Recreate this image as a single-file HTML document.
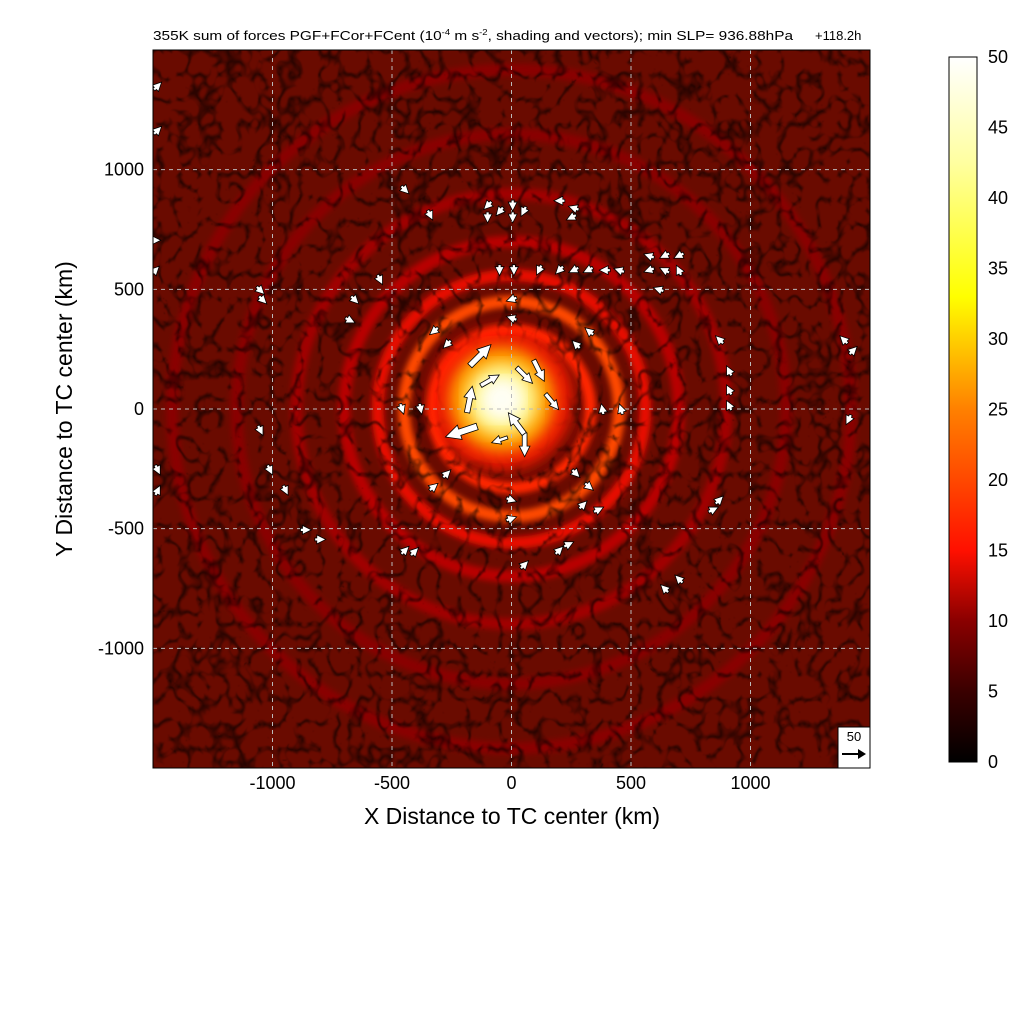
<!DOCTYPE html>
<html><head><meta charset="utf-8"><style>
body{margin:0;background:#fff;width:1024px;height:1024px;overflow:hidden;font-family:"Liberation Sans",sans-serif}
</style></head><body>
<svg id="chart" width="1024" height="1024" xmlns="http://www.w3.org/2000/svg">
<defs>
<clipPath id="clip"><rect x="153" y="50" width="717" height="718"/></clipPath>
<filter id="noise" x="0" y="0" width="100%" height="100%">
<feTurbulence type="turbulence" baseFrequency="0.05 0.04" numOctaves="2" seed="11"/>
<feColorMatrix type="matrix" values="0 0 0 0 0  0 0 0 0 0  0 0 0 0 0  -4 0 0 0 0.9"/>
<feGaussianBlur stdDeviation="0.6"/>
</filter>
<filter id="blur"><feGaussianBlur stdDeviation="3"/></filter>
<filter id="blur2"><feGaussianBlur stdDeviation="7"/></filter>
<linearGradient id="cbar" x1="0" y1="1" x2="0" y2="0">
<stop offset="0" stop-color="#000"/><stop offset="0.1" stop-color="#3a0000"/>
<stop offset="0.2" stop-color="#8a0000"/><stop offset="0.3" stop-color="#ff1000"/>
<stop offset="0.5" stop-color="#ff8000"/><stop offset="0.66" stop-color="#ffff00"/>
<stop offset="0.85" stop-color="#ffffa0"/><stop offset="1" stop-color="#fff"/>
</linearGradient>
</defs>
<text x="153" y="40" font-size="13" textLength="640" lengthAdjust="spacingAndGlyphs">355K sum of forces PGF+FCor+FCent (10<tspan dy="-5" font-size="8">-4</tspan><tspan dy="5"> m s</tspan><tspan dy="-5" font-size="8">-2</tspan><tspan dy="5">, shading and vectors); min SLP= 936.88hPa</tspan></text>
<text x="815" y="40" font-size="13">+118.2h</text>
<g id="plot" clip-path="url(#clip)">
<rect x="153" y="50" width="717" height="718" fill="#6a0b00"/>
<g id="rings"></g>
<rect x="153" y="50" width="717" height="718" fill="#000" filter="url(#noise)" opacity="0.7"/>
<g id="core"></g>
<g id="grid"></g>
<g id="arrows"></g>
</g>
<rect x="153" y="50" width="717" height="718" fill="none" stroke="#000" stroke-width="1"/>
<g id="axes"></g>
<text x="512" y="824" font-size="23" text-anchor="middle">X Distance to TC center (km)</text>
<text transform="translate(72,409) rotate(-90)" font-size="23" text-anchor="middle">Y Distance to TC center (km)</text>
<g>
<rect x="838" y="727" width="32" height="41" fill="#fff" stroke="#000"/>
<text x="854" y="741" font-size="13" text-anchor="middle">50</text>
<line x1="842" y1="754" x2="860" y2="754" stroke="#000" stroke-width="2"/>
<polygon points="866,754 858,749 858,759" fill="#000"/>
</g>
<rect x="949" y="57" width="28" height="705" fill="url(#cbar)" stroke="#000"/>
<g id="cbticks"></g>
</svg>
<script>
const xTicks=[-1000,-500,0,500,1000];
const yTicks=[-1000,-500,0,500,1000];
const cbTicks=[0,5,10,15,20,25,30,35,40,45,50];
const ringRadius=[330,450,560,700,900,1150,1420];
const ringValue=[17,20,14,12,11,10,10];
const coreRadius=[300,220,150,90];
const coreValue=[16,28,42,50];
const arrowX=[-100,-50,5,50,200,260,-100,5,250,-50,10,115,200,260,320,390,450,575,640,700,575,640,700,615,-655,-675,-550,-445,-340,458,-458,0,0,325,-325,325,-325,380,-380,0,0,270,-270,270,-270,-1050,-1040,-1050,-1010,-945,-800,-860,910,910,910,870,845,870,1390,1430,1410,200,240,300,365,55,700,640,-445,-405,-1480,-1480,-1490,-1490,-1480,-1480,-210,-130,55,115,-175,55,-90,-50,20,170];
const arrowY=[850,825,850,825,870,840,800,800,800,580,580,580,580,580,580,580,580,640,640,640,580,580,580,500,455,370,540,915,810,0,0,458,-458,325,325,-325,-325,0,0,380,-380,270,270,-270,-270,495,455,-90,-255,-340,-545,-505,160,80,15,-380,-420,290,290,245,-45,-590,-565,-400,-420,-650,-710,-750,-590,-595,1350,1165,705,580,-255,-340,-95,225,140,160,40,-150,120,-130,-60,30];
const arrowU=[-10,-10,0,-5,-10,-15,0,0,-10,0,0,-5,-10,-10,-10,-15,-15,-15,-10,-10,-15,-10,-5,-15,10,10,5,5,5,-5,5,-15,15,-12,-12,12,12,-3,3,-15,15,-12,-12,12,12,10,10,5,5,5,10,10,-5,-5,-5,10,10,-10,-5,5,-5,10,10,10,10,10,-10,-10,10,10,5,5,5,5,5,5,-60,40,30,20,10,0,35,-30,-30,25];
const arrowV=[-10,-12,-12,-10,0,5,-12,-12,-5,-10,-12,-10,-10,-5,-5,0,5,5,-5,-5,-5,5,10,5,-10,-5,-10,-5,-10,15,-15,-5,5,10,-10,-10,10,15,-15,5,-5,12,-12,-12,12,-10,-10,-10,-10,-10,0,0,10,10,10,10,5,10,5,5,-10,10,5,10,5,10,10,10,10,10,5,5,0,5,-10,10,-20,40,-30,-40,50,-45,20,-10,40,-30];

const NS="http://www.w3.org/2000/svg";
const X0=153,X1=870,Y0=50,Y1=768;
const sx=v=>X0+(v+1500)/3000*(X1-X0);
const sy=v=>Y1-(v+1500)/3000*(Y1-Y0);
const sr=v=>v/3000*(X1-X0);
const cbY=v=>762-v/50*705;
function col(v){
 const s=[[0,[0,0,0]],[5,[58,0,0]],[10,[138,0,0]],[15,[255,16,0]],[25,[255,128,0]],[33,[255,255,0]],[42,[255,255,160]],[50,[255,255,255]]];
 v=Math.max(0,Math.min(50,v));
 for(let i=1;i<s.length;i++){if(v<=s[i][0]){const t=(v-s[i-1][0])/(s[i][0]-s[i-1][0]);const a=s[i-1][1],b=s[i][1];return`rgb(${a.map((c,k)=>Math.round(c+(b[k]-c)*t)).join(',')})`;}}
 return'#fff';
}
function mk(tag,attrs,parent){const e=document.createElementNS(NS,tag);for(const k in attrs)e.setAttribute(k,attrs[k]);parent.appendChild(e);return e;}
const rings=document.getElementById('rings');
ringRadius.forEach((r,i)=>{
 const c=mk('circle',{cx:sx(0),cy:sy(0),r:sr(r),fill:'none',stroke:col(ringValue[i]),'stroke-width':sr(50),filter:'url(#blur)'},rings);
 
 
});
const core=document.getElementById('core');
coreRadius.forEach((r,i)=>{
 const c=mk('circle',{cx:sx(-40),cy:sy(40),r:sr(r),fill:col(coreValue[i]),filter:'url(#blur2)',opacity:0.9},core);
 
 
});
const grid=document.getElementById('grid'),axes=document.getElementById('axes');
xTicks.forEach(t=>{
 const l=mk('line',{x1:sx(t),x2:sx(t),y1:Y0,y2:Y1,stroke:'#bbb','stroke-width':1,'stroke-dasharray':'4,4'},grid);
 
 
 const tx=mk('text',{x:sx(t),y:789,'font-size':18,'text-anchor':'middle'},axes);tx.textContent=t;
 
 
});
yTicks.forEach(t=>{
 const l=mk('line',{x1:X0,x2:X1,y1:sy(t),y2:sy(t),stroke:'#bbb','stroke-width':1,'stroke-dasharray':'4,4'},grid);
 
 
 const tx=mk('text',{x:144,y:sy(t)+6,'font-size':18,'text-anchor':'end'},axes);tx.textContent=t;
 
 
});
const cbt=document.getElementById('cbticks');
cbTicks.forEach(t=>{
 const tx=mk('text',{x:988,y:cbY(t)+6,'font-size':18},cbt);tx.textContent=t;
 
 
});
const ar=document.getElementById('arrows');
const k=22/50;
arrowX.forEach((x,i)=>{
 const u=arrowU[i],v=arrowV[i],m=Math.hypot(u,v)||1;
 const L=Math.max(11,m*k*1.2);
 const ang=Math.atan2(-v,u)*180/Math.PI;
 const w=Math.max(3,L*0.2),h=Math.max(9,L*0.45);
 const g=mk('g',{transform:`translate(${sx(x)},${sy(arrowY[i])}) rotate(${ang})`},ar);
 
 
 mk('polygon',{points:`${-L/2},${-w/2} ${L/2-h},${-w/2} ${L/2-h},${-h/2} ${L/2},0 ${L/2-h},${h/2} ${L/2-h},${w/2} ${-L/2},${w/2}`,fill:'#fff',stroke:'#000','stroke-width':0.8},g);
});
</script>
</body></html>
